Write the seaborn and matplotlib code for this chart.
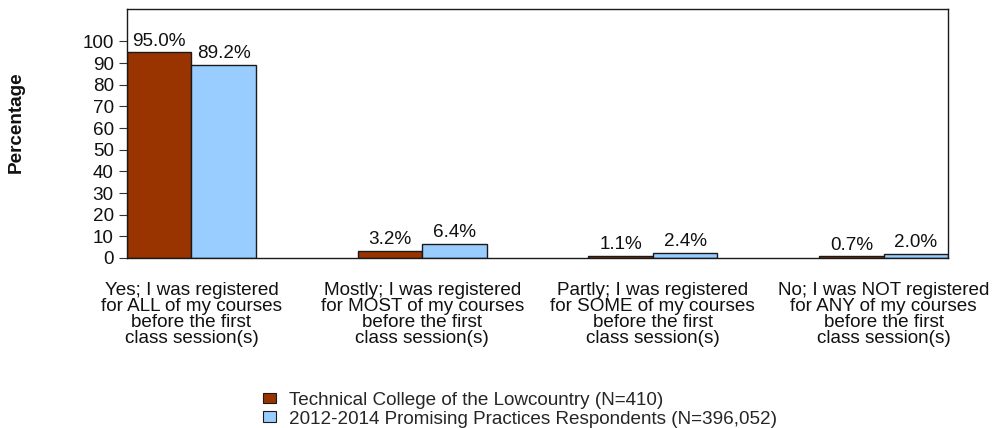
import matplotlib
matplotlib.use("Agg")
import matplotlib.pyplot as plt
import seaborn as sns
import pandas as pd
from matplotlib.patches import Patch

categories = [
    "Yes; I was registered\nfor ALL of my courses\nbefore the first\nclass session(s)",
    "Mostly; I was registered\nfor MOST of my courses\nbefore the first\nclass session(s)",
    "Partly; I was registered\nfor SOME of my courses\nbefore the first\nclass session(s)",
    "No; I was NOT registered\nfor ANY of my courses\nbefore the first\nclass session(s)",
]
series_names = ["Technical College of the Lowcountry (N=410)",
                "2012-2014 Promising Practices Respondents (N=396,052)"]
college_values = [95.0, 3.2, 1.1, 0.7]
national_values = [89.2, 6.4, 2.4, 2.0]
colors = ["#993300", "#99CCFF"]
y_ticks = list(range(0, 101, 10))

rows = []
for c, a, b in zip(categories, college_values, national_values):
    rows.append({"cat": c, "series": series_names[0], "value": a})
    rows.append({"cat": c, "series": series_names[1], "value": b})
df = pd.DataFrame(rows)

sns.set_theme(style="white")
plt.rcParams["font.family"] = ["Liberation Sans", "DejaVu Sans"]

FS = 13.6
fig = plt.figure(figsize=(9.94, 4.28), dpi=100)
ax = fig.add_axes([0.1278, 0.3972, 0.8259, 0.5818])

sns.barplot(data=df, x="cat", y="value", hue="series", palette=colors,
            width=0.558, gap=0, edgecolor="#1a1a1a", linewidth=1.0,
            ax=ax, legend=False, saturation=1)

for container in ax.containers:
    ax.bar_label(container, labels=[f"{v:.1f}%" for v in container.datavalues],
                 padding=2, fontsize=FS, color="#111111")

ax.set_xlim(-0.279, 3.279)
ax.set_ylim(0, 115)
ax.set_yticks(y_ticks)
ax.set_yticklabels([str(t) for t in y_ticks], fontsize=FS, color="#111111")
ax.tick_params(axis="y", left=True, length=6, width=0.8, color="#333333", pad=3.5)
ax.tick_params(axis="x", bottom=False, labelsize=FS, pad=11, labelcolor="#111111")
for lbl in ax.get_xticklabels():
    lbl.set_linespacing(0.93)
ax.set_xlabel("")
ax.set_ylabel("Percentage", fontsize=FS, fontweight="bold", color="#111111")
ax.yaxis.set_label_coords(-0.124, 0.546)
for s in ax.spines.values():
    s.set_visible(True)
    s.set_color("#1a1a1a")
    s.set_linewidth(1.0)

handles = [Patch(facecolor=colors[i], edgecolor="#1a1a1a", linewidth=0.8, label=series_names[i])
           for i in range(2)]
fig.legend(handles=handles, loc="upper left", bbox_to_anchor=(0.2646, 0.085),
           frameon=False, fontsize=FS, handlelength=0.7, handleheight=0.5,
           handletextpad=0.65, labelspacing=0.1, borderaxespad=0, borderpad=0)

fig.savefig("out.png", dpi=100)
